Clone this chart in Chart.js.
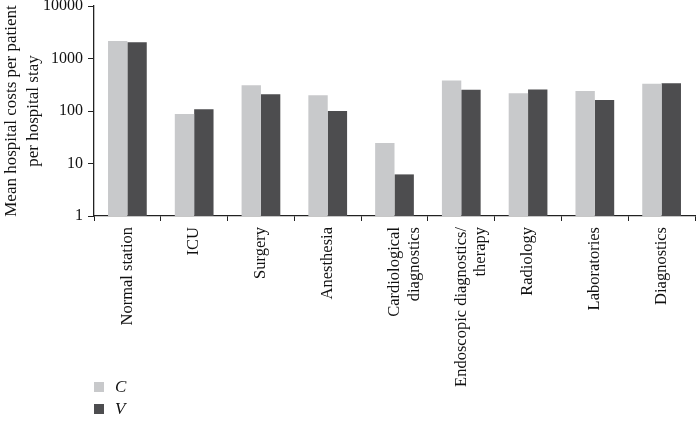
<!DOCTYPE html>
<html><head><meta charset="utf-8">
<script src="https://cdn.jsdelivr.net/npm/chart.js@4"></script>
<style>
body{margin:0;background:#fff;}
#wrap{position:relative;width:697px;height:429px;overflow:hidden;}
#legend{position:absolute;left:94px;top:376px;font-family:"Liberation Serif",serif;font-style:italic;font-size:17px;color:#111;}
.item{display:flex;align-items:center;height:22px;}
.sw{width:10px;height:10px;margin-right:11px;}
</style></head><body>
<div id="wrap"><canvas id="c" width="697" height="429"></canvas><div id="legend"></div></div>
<script>
const categories = ["Normal station", "ICU", "Surgery", "Anesthesia", ["Cardiological", "diagnostics"], ["Endoscopic diagnostics/", "therapy"], "Radiology", "Laboratories", "Diagnostics"];
const seriesC = [2150, 88, 310, 200, 24.5, 380, 217, 240, 330];
const seriesV = [2050, 108, 208, 100, 6.2, 255, 258, 162, 338];
const yTicks = [1, 10, 100, 1000, 10000];
const seriesNames = ["C", "V"];
const colors = ["#c8c9cb", "#4d4d4f"];
const yTitle = ["Mean hospital costs per patient", "per hospital stay"];

const FONT = "'Liberation Serif', serif";
const axisColor = "#222";

new Chart(document.getElementById('c'), {
  type: 'bar',
  data: {
    labels: categories,
    datasets: [
      {label: seriesNames[0], data: seriesC, backgroundColor: colors[0], categoryPercentage: 0.58, barPercentage: 1.0},
      {label: seriesNames[1], data: seriesV, backgroundColor: colors[1], categoryPercentage: 0.58, barPercentage: 1.0}
    ]
  },
  options: {
    responsive: false,
    animation: false,
    layout: {padding: {top: 6, right: 2, left: 0, bottom: 0}},
    plugins: {legend: {display: false}, tooltip: {enabled: false}},
    scales: {
      x: {
        grid: {display: true, drawOnChartArea: false, drawTicks: true, tickLength: 5, color: axisColor, offset: true},
        border: {display: true, color: axisColor, width: 1.3},
        ticks: {autoSkip: false, minRotation: 90, maxRotation: 90, padding: 6, color: '#111', font: {family: FONT, size: 16.5, lineHeight: 1.2}},
        afterFit: (s) => { s.height = 213; s.paddingLeft = 0; s.paddingRight = 0; }
      },
      y: {
        type: 'logarithmic',
        min: 1, max: 10000,
        afterBuildTicks: (s) => { s.ticks = yTicks.map(v => ({value: v})); },
        grid: {display: true, drawOnChartArea: false, drawTicks: true, tickLength: 6, color: axisColor},
        border: {display: true, color: axisColor, width: 1.3},
        ticks: {padding: 5, color: '#111', font: {family: FONT, size: 16}, callback: (v) => String(v)},
        title: {display: true, text: yTitle, color: '#111', font: {family: FONT, size: 17, lineHeight: 1.3}, padding: {top: 0, bottom: 0}},
        afterFit: (s) => { s.width = 94; s.paddingTop = 0; s.paddingBottom = 0; }
      }
    }
  }
});

const lg = document.getElementById('legend');
seriesNames.forEach((n, i) => {
  const d = document.createElement('div'); d.className = 'item';
  const sw = document.createElement('span'); sw.className = 'sw'; sw.style.background = colors[i];
  const t = document.createElement('span'); t.textContent = n;
  d.appendChild(sw); d.appendChild(t); lg.appendChild(d);
});
</script>
</body></html>
